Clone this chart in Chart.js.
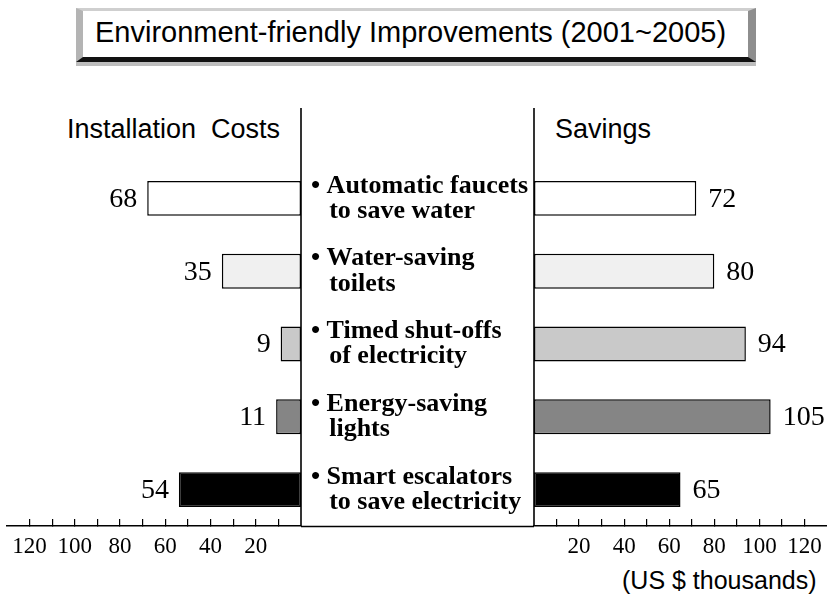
<!DOCTYPE html>
<html>
<head>
<meta charset="utf-8">
<script src="https://cdn.jsdelivr.net/npm/chart.js@4"></script>
<style>
html,body{margin:0;padding:0;background:#fff;}
#wrap{position:relative;width:827px;height:594px;overflow:hidden;background:#fff;}
canvas{position:absolute;left:0;top:0;}
.txt{position:absolute;white-space:pre;font-family:"Liberation Sans",Arial,sans-serif;color:#000;line-height:1;}
#titlebox{position:absolute;left:76px;top:8px;width:665px;height:46px;background:#fff;
  border-top:3px solid #cfcfcf;border-left:7px solid #b4b4b4;border-right:8px solid #8e8e8e;border-bottom:5px solid #111;
  box-shadow:0 4px 0 #bdbdbd;}
</style>
</head>
<body>
<div id="wrap">
  <div id="titlebox"></div>
  <div class="txt" id="title" style="left:95px;top:18px;font-size:29px;">Environment-friendly Improvements (2001~2005)</div>
  <div class="txt" style="left:67px;top:116px;font-size:27px;">Installation  Costs</div>
  <div class="txt" style="left:555px;top:116px;font-size:27px;">Savings</div>
  <div class="txt" style="left:622px;top:568px;font-size:25px;">(US $ thousands)</div>
  <canvas id="left" width="827" height="594"></canvas>
  <canvas id="right" width="827" height="594"></canvas>
</div>
<script>
// ---- data ----
const categories = [
  ["Automatic faucets", "to save water"],
  ["Water-saving", "toilets"],
  ["Timed shut-offs", "of electricity"],
  ["Energy-saving", "lights"],
  ["Smart escalators", "to save electricity"]
];
const installationCosts = [68, 35, 9, 11, 54];
const savings = [72, 80, 94, 105, 65];
const axisTicks = [10, 20, 30, 40, 50, 60, 70, 80, 90, 100, 110, 120];
const tickLabels = [20, 40, 60, 80, 100, 120];
const axisMax = 130;
const barFills = ["#ffffff", "#f0f0f0", "#c9c9c9", "#858585", "#000000"];

Chart.defaults.font.family = '"Liberation Serif", "Times New Roman", serif';
Chart.defaults.color = '#000';

const valuePlugin = {
  id: 'decor',
  afterDraw(chart, args, opts) {
    const ctx = chart.ctx;
    const xs = chart.scales.x;
    const ca = chart.chartArea;
    const x0 = xs.getPixelForValue(0);
    ctx.save();
    ctx.strokeStyle = '#000';
    ctx.lineWidth = 1.6;
    ctx.beginPath();
    ctx.moveTo(x0, opts.lineTop);
    ctx.lineTo(x0, ca.bottom);
    ctx.stroke();
    if (opts.midFrom !== undefined) {
      ctx.lineWidth = 1.4;
      ctx.beginPath();
      ctx.moveTo(opts.midFrom, ca.bottom + 0.5);
      ctx.lineTo(x0, ca.bottom + 0.5);
      ctx.stroke();
    }
    ctx.font = '28px "Liberation Serif", serif';
    ctx.fillStyle = '#000';
    ctx.textBaseline = 'middle';
    const meta = chart.getDatasetMeta(0);
    const data = chart.data.datasets[0].data;
    meta.data.forEach((bar, i) => {
      if (opts.side === 'left') {
        ctx.textAlign = 'right';
        ctx.fillText(String(data[i]), bar.x - 10, bar.y + 1);
      } else {
        ctx.textAlign = 'left';
        ctx.fillText(String(data[i]), bar.x + 12, bar.y + 1);
      }
    });
    ctx.restore();
  }
};

function xScale(reverse) {
  return {
    reverse: reverse,
    min: 0,
    max: axisMax,
    afterBuildTicks(scale) { scale.ticks = axisTicks.map(v => ({ value: v })); },
    afterFit(scale) { scale.height = 68; scale.paddingLeft = 0; scale.paddingRight = 0; },
    ticks: {
      autoSkip: false,
      maxRotation: 0,
      padding: 14,
      font: { size: 23 },
      color: '#000',
      callback: (v) => tickLabels.includes(v) ? String(v) : ''
    },
    grid: { drawOnChartArea: false, drawTicks: true, tickLength: -7, color: '#000', lineWidth: 1.2 },
    border: { display: true, color: '#000', width: 1.6 }
  };
}

const leftChart = new Chart(document.getElementById('left'), {
  type: 'bar',
  data: {
    labels: categories,
    datasets: [{
      data: installationCosts,
      backgroundColor: barFills,
      borderColor: '#000',
      borderWidth: 1.5,
      borderSkipped: false,
      barPercentage: 0.48,
      categoryPercentage: 1
    }]
  },
  options: {
    indexAxis: 'y',
    responsive: false,
    animation: false,
    layout: { padding: { left: 7, right: 526, top: 162, bottom: 0 } },
    plugins: { legend: { display: false }, tooltip: { enabled: false }, decor: { side: 'left', lineTop: 108 } },
    scales: {
      x: xScale(true),
      y: { display: false }
    }
  },
  plugins: [valuePlugin]
});

const leftZero = leftChart.scales.x.getPixelForValue(0);

new Chart(document.getElementById('right'), {
  type: 'bar',
  data: {
    labels: categories,
    datasets: [{
      data: savings,
      backgroundColor: barFills,
      borderColor: '#000',
      borderWidth: 1.5,
      borderSkipped: false,
      barPercentage: 0.48,
      categoryPercentage: 1
    }]
  },
  options: {
    indexAxis: 'y',
    responsive: false,
    animation: false,
    layout: { padding: { left: 311, right: 0, top: 162, bottom: 0 } },
    plugins: { legend: { display: false }, tooltip: { enabled: false }, decor: { side: 'right', lineTop: 108, midFrom: leftZero } },
    scales: {
      x: xScale(false),
      y: {
        position: 'left',
        afterFit(scale) { scale.width = 223; },
        grid: { display: false },
        border: { display: false },
        ticks: {
          crossAlign: 'far',
          padding: 0,
          autoSkip: false,
          font: { size: 26, weight: 'bold', lineHeight: 0.97 },
          color: '#000',
          callback: function (v, i) {
            const lines = categories[i];
            return ['\u2022 ' + lines[0], '\u2002\u2009' + lines[1]];
          }
        }
      }
    }
  },
  plugins: [valuePlugin]
});
</script>
</body>
</html>
